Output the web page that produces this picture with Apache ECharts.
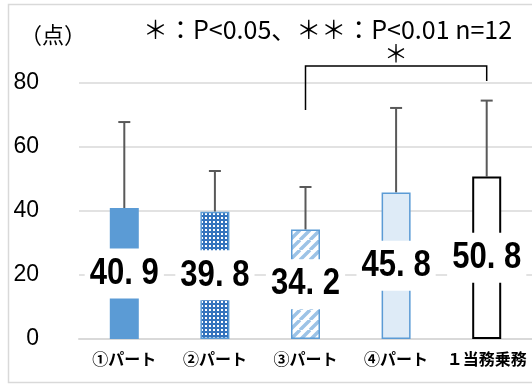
<!DOCTYPE html>
<html>
<head>
<meta charset="utf-8">
<script src="https://cdn.jsdelivr.net/npm/echarts@6/dist/echarts.min.js"></script>
<style>
  html, body { margin: 0; padding: 0; background: #fff; }
  #chart { width: 532px; height: 385px; }
</style>
</head>
<body>
<div id="chart"></div>
<script>
var categories = ['①パート', '②パート', '③パート', '④パート', '１当務乗務'];
var means = [40.9, 39.8, 34.2, 45.8, 50.8];
var errorTops = [67.8, 52.5, 47.5, 72.2, 74.5];
var yTicks = [0, 20, 40, 60, 80];
// significance bracket: from category 2 to 4, left foot, right foot, top line
var bracketPair = [2, 4];
var bracketLevels = [71.6, 80.6, 85.3];

var makePattern = function (size, draw) {
    var c = document.createElement('canvas');
    c.width = size;
    c.height = size;
    draw(c.getContext('2d'), size);
    return { image: c, repeat: 'repeat' };
};

var dotFill = makePattern(4, function (ctx, s) {
    ctx.fillStyle = '#3574bd';
    ctx.fillRect(0, 0, s, s);
    ctx.fillStyle = '#ffffff';
    ctx.fillRect(1, 1, 2, 2);
});

var stripeFill = makePattern(10, function (ctx, s) {
    ctx.fillStyle = '#ffffff';
    ctx.fillRect(0, 0, s, s);
    ctx.strokeStyle = '#9dc3e6';
    ctx.lineWidth = 3.5;
    ctx.beginPath();
    for (var k = -1; k <= 1; k++) {
        ctx.moveTo(k * s, s);
        ctx.lineTo(k * s + s, 0);
    }
    ctx.stroke();
});

var barStyles = [
    { color: '#5b9bd5' },
    { color: dotFill, borderColor: '#5b9bd5', borderWidth: 1.5 },
    { color: stripeFill, borderColor: '#5b9bd5', borderWidth: 1.5 },
    { color: '#deebf7', borderColor: '#5b9bd5', borderWidth: 1.5 },
    { color: '#ffffff', borderColor: '#000000', borderWidth: 2 }
];

var barData = means.map(function (v, i) {
    return { value: v, itemStyle: barStyles[i] };
});

var myChart = echarts.init(document.getElementById('chart'));

var option = {
    animation: false,
    grid: { left: 79, right: -2, top: 83, bottom: 46 },
    graphic: [
        {
            type: 'rect',
            shape: { x: 8.5, y: 4.5, width: 530, height: 378 },
            style: { fill: 'none', stroke: '#d9d9d9', lineWidth: 1.5 },
            silent: true
        },
        {
            type: 'text', left: 20, top: 24,
            style: { text: '（点）', font: '22px "Noto Sans CJK JP"', fill: '#000' }
        },
        {
            type: 'text', left: 143, top: 17,
            style: { text: '＊：P<0.05、＊＊：P<0.01 n=12', font: '25px "Noto Sans CJK JP"', fill: '#000' }
        }
    ],
    xAxis: {
        type: 'category',
        data: categories,
        axisLine: { lineStyle: { color: '#d9d9d9', width: 2 } },
        axisTick: { show: false },
        axisLabel: {
            interval: 0,
            margin: 12,
            color: '#000',
            fontSize: 16,
            fontWeight: 'bold',
            fontFamily: '"Noto Sans CJK JP"'
        }
    },
    yAxis: {
        type: 'value',
        min: yTicks[0],
        max: yTicks[yTicks.length - 1],
        interval: 20,
        axisLine: { show: false },
        axisTick: { show: false },
        splitLine: { lineStyle: { color: '#d9d9d9', width: 1.5 } },
        axisLabel: {
            margin: 40,
            color: '#000',
            fontSize: 23,
            fontFamily: '"Liberation Sans", Arial'
        }
    },
    series: [
        {
            type: 'custom',
            z: 1,
            data: errorTops.map(function (t, i) { return [i, means[i], t]; }),
            renderItem: function (params, api) {
                var base = api.coord([api.value(0), api.value(1)]);
                var top = api.coord([api.value(0), api.value(2)]);
                var style = { stroke: '#595959', lineWidth: 2 };
                return {
                    type: 'group',
                    children: [
                        { type: 'line', shape: { x1: base[0], y1: base[1], x2: top[0], y2: top[1] }, style: style },
                        { type: 'line', shape: { x1: top[0] - 6, y1: top[1], x2: top[0] + 6, y2: top[1] }, style: style }
                    ]
                };
            }
        },
        {
            type: 'bar',
            z: 2,
            data: barData,
            barWidth: 29
        },
        {
            // value labels, centred on each bar, drawn narrow like the original
            type: 'custom',
            z: 4,
            data: means.map(function (v, i) { return [i, v]; }),
            renderItem: function (params, api) {
                var mid = api.coord([api.value(0), api.value(1) / 2]);
                return {
                    type: 'text',
                    x: mid[0],
                    y: mid[1],
                    scaleX: 0.84,
                    style: {
                        text: api.value(1).toFixed(1).replace('.', '. '),
                        font: 'bold 37px "Liberation Sans", Arial',
                        fill: '#000',
                        align: 'center',
                        verticalAlign: 'middle',
                        lineHeight: 38,
                        backgroundColor: '#ffffff',
                        padding: [6, 6]
                    }
                };
            }
        },
        {
            type: 'custom',
            z: 3,
            clip: false,
            data: [[bracketPair[0], bracketPair[1]].concat(bracketLevels)],
            renderItem: function (params, api) {
                var a = api.coord([api.value(0), api.value(2)]);
                var b = api.coord([api.value(1), api.value(3)]);
                var yTop = api.coord([api.value(0), api.value(4)])[1];
                var style = { stroke: '#000', lineWidth: 1.5, fill: 'none' };
                return {
                    type: 'group',
                    children: [
                        { type: 'polyline', shape: { points: [[a[0], a[1]], [a[0], yTop], [b[0], yTop], [b[0], b[1]]] }, style: style },
                        {
                            type: 'text',
                            x: (a[0] + b[0]) / 2,
                            y: yTop - 1,
                            style: { text: '＊', font: '24px "Noto Sans CJK JP"', fill: '#000', align: 'center', verticalAlign: 'bottom' }
                        }
                    ]
                };
            }
        }
    ]
};
myChart.setOption(option);
</script>
</body>
</html>
